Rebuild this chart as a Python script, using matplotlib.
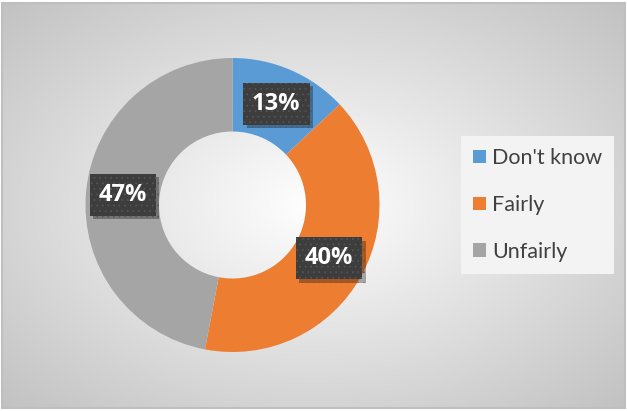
import numpy as np
import matplotlib.pyplot as plt
import matplotlib.patheffects as pe
from matplotlib.patches import Rectangle

# dados
categorias = ["Don't know", "Fairly", "Unfairly"]
valores = [13, 40, 47]
rotulos = ["13%", "40%", "47%"]
cores = ["#5B9BD5", "#ED7D31", "#A5A5A5"]

W, H = 627, 411
plt.rcParams['font.family'] = ['Lato', 'DejaVu Sans']
plt.rcParams['hatch.linewidth'] = 0.5

fig = plt.figure(figsize=(W / 100, H / 100), dpi=100)
fig.patch.set_facecolor('white')

# fundo com gradiente radial
bg = fig.add_axes([0, 0, 1, 1])
x0, x1, y0, y1 = 2, 625, 3, 408
xx, yy = np.meshgrid(np.linspace(x0, x1, 400), np.linspace(y0, y1, 300))
cx, cy = (x0 + x1) / 2, (y0 + y1) / 2
r = np.sqrt(((xx - cx) / (cx - x0)) ** 2 + ((yy - cy) / (cy - y0)) ** 2) / np.sqrt(2)
val = 1 - 0.24 * r
bg.imshow(np.dstack([val, val, val]), extent=(x0, x1, y1, y0), interpolation='bilinear')
bg.add_patch(Rectangle((x0, y0), x1 - x0, y1 - y0, fill=False, ec='#bfbfbf', lw=1.5))
bg.set_xlim(0, W)
bg.set_ylim(H, 0)
bg.axis('off')

# donut
cxp, cyp, R = 232.5, 205, 147
ax = fig.add_axes([(cxp - R) / W, 1 - (cyp + R) / H, 2 * R / W, 2 * R / H])
wedges, _ = ax.pie(valores, colors=cores, startangle=90, counterclock=False,
                   radius=1, wedgeprops=dict(width=0.5, edgecolor='none'))
ax.set_xlim(-1, 1)
ax.set_ylim(-1, 1)
ax.set_aspect('equal')
ax.axis('off')

# rotulos
ang0 = 90
for v, txt in zip(valores, rotulos):
    meio = np.deg2rad(ang0 - v * 3.6 / 2)
    ang0 -= v * 3.6
    px, py = 0.75 * np.cos(meio), 0.75 * np.sin(meio)
    t = ax.text(px, py, txt, ha='center', va='center', fontsize=17,
                fontweight='bold', family=['Open Sans', 'DejaVu Sans'], color='white',
                bbox=dict(boxstyle='square,pad=0.38', fc='#3d3d3d', ec='#575757', lw=0,
                          hatch='...'))
    t.get_bbox_patch().set_path_effects([
        pe.SimplePatchShadow(offset=(2.5, -2.5), shadow_rgbFace='black', alpha=0.3),
        pe.Normal()])

# legenda
leg = fig.legend(wedges, categorias, loc='center left',
                 bbox_to_anchor=(461 / W, 1 - 205 / H), fontsize=15.5,
                 frameon=True, fancybox=False, handlelength=0.6, handleheight=0.6,
                 handletextpad=0.3, labelspacing=1.25, borderpad=0.55,
                 borderaxespad=0, labelcolor='#404040')
leg.get_frame().set_facecolor('#f3f3f3')
leg.get_frame().set_edgecolor('none')
leg.get_frame().set_alpha(1)

fig.savefig('out.png', dpi=100)
